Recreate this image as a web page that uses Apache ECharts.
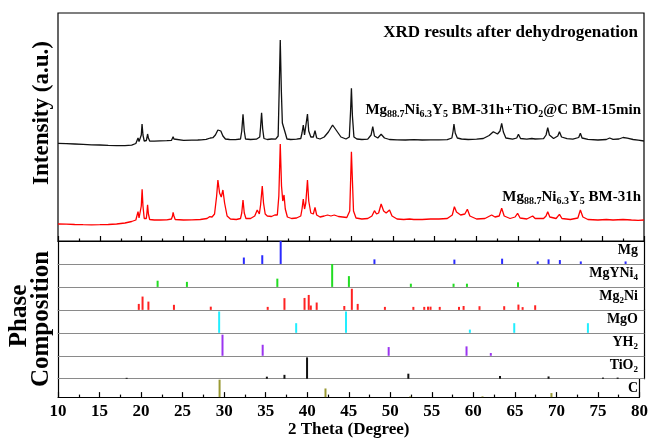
<!DOCTYPE html>
<html><head><meta charset="utf-8">
<script src="https://cdn.jsdelivr.net/npm/echarts@6/dist/echarts.min.js"></script>
<style>html,body{margin:0;padding:0;background:#fff}#c{width:651px;height:439px}</style>
</head><body><div id="c"></div>
<script>
// ---- data ----
const xMin = 10, xMax = 80, xStep = 5;

// XRD pattern: sample with TiO2@C (black), [2theta, intensity a.u.]
const patternTiO2C = [
[10,97.7],[11,97.4],[12,97],[13,96.6],[14,96.2],[15,96],[16,95.6],[17,95.4],[18,95.4],[18.8,95.8],[19.3,97.5],
[19.45,99],[19.56,103],[19.68,99.5],[19.85,100],[19.95,106],[20.04,117],[20.15,106],[20.3,100],[20.55,100.5],[20.62,103],[20.7,107],[20.8,103],[20.95,100],
[21.5,99.8],[22.2,100.2],[23,100.3],[23.55,100.6],[23.68,102.5],[23.75,104.3],[23.85,102],[24.0,100.5],
[25,100.6],[26,100.9],[26.7,101],[26.9,102.3],[27.1,101.2],[27.7,101.6],[28.2,103],[28.5,103.3],[28.8,106],[29.1,111],[29.25,112.7],[29.45,110],[29.7,105],[30,102],[30.5,101.5],
[31.2,101.4],[31.8,102],[31.95,110],[32.1,126.7],[32.25,110],[32.4,102],
[33,101.5],[33.7,101.8],[34.1,104],[34.2,114],[34.32,128.3],[34.45,112],[34.6,102.5],[35,101.5],[35.5,102],[36,101.8],[36.3,105],[36.42,150],[36.55,201],[36.68,150],[36.8,118],[37.0,119.3],[37.15,108],[37.35,102],
[37.8,101.5],[38.5,101.8],[39.0,102.5],[39.15,108],[39.3,116],[39.45,106],[39.6,108],[39.8,127],[39.95,110],[40.2,104],[40.5,104],[40.7,110.3],[40.9,103],[41.3,102],[41.8,104],[42.3,109],[42.8,116],[43.3,110],[43.8,104],[44.4,102],[44.8,104],[44.95,130],[45.05,152.7],[45.17,125],[45.35,104],[45.7,102],[46.3,101.5],[47.0,101.8],[47.4,106],[47.6,114.3],[47.8,105],[48.2,103],[48.6,106.7],[49.0,103],[49.6,101.5],
[50.5,101.2],[51.5,101],[52.5,101.3],[53.5,101],[54.5,101.2],[55.5,101.2],[56.5,101.3],[57.05,103],[57.2,110],[57.3,117],[57.45,108],[57.7,103],[58.2,102],[59,101.5],[60,101.8],[60.8,102.5],[61.5,105.5],[62.0,109.3],[62.5,107],[62.8,110],[63.0,117.7],[63.2,109],[63.5,103],[64.3,101.8],[64.8,103],[65.0,106.7],[65.25,102.5],[66,101.8],[66.6,102.5],[66.8,104.3],[67.0,102],[68.0,102.3],[68.3,106],[68.5,113.3],[68.7,106],[69.2,102.5],[69.7,105],[69.9,109.3],[70.15,104],[70.8,102.3],[71.5,101.8],[72.2,103.5],[72.4,107.7],[72.6,103],[73.3,101.6],[74.5,101],[75.5,101.5],[75.9,103],[76.3,101.6],[77,102],[77.5,103.5],[78,102.8],[78.7,101.5],[79.3,100.8],[80,100]
];

// XRD pattern: BM-31h sample (red)
const patternBM31h = [
[10,17],[11,16.8],[12,16.5],[13,16.3],[14,16.2],[15,16.3],[16,16.5],[17,17],[18,18],[18.8,19.5],[19.3,21],
[19.45,23],[19.56,29.3],[19.68,23],[19.85,22.5],[19.95,35],[20.05,51.7],[20.15,35],[20.3,22.5],[20.55,22.5],[20.62,28],[20.7,36.3],[20.8,27],[20.95,21.5],
[21.5,21],[22.2,21],[23,21.2],[23.55,22],[23.68,25],[23.75,28.7],[23.85,25],[24,21.5],[25,21],[26,21.2],[27,21.5],[27.8,22.5],[28.1,24.3],[28.4,24],[28.7,27],[28.95,45],[29.1,61],[29.3,48],[29.5,44],[29.7,51],[29.9,38],[30.2,25],[30.6,22],
[31.3,21.5],[31.8,22.5],[31.95,28],[32.1,41],[32.25,28],[32.45,22.5],[33.0,22.5],[33.5,25],[33.8,31],[34.05,27],[34.2,36],[34.4,55],[34.55,38],[34.75,27],[35.0,25],[35.5,24.5],[35.9,26],[36.2,26],[36.38,45],[36.55,97],[36.7,55],[36.85,40],[37.0,46],[37.15,32],[37.4,24],[37.9,22.5],[38.5,23],[39.0,25],[39.15,32],[39.3,42],[39.45,32],[39.6,38],[39.8,61],[39.95,40],[40.2,28],[40.5,27],[40.7,33.7],[40.9,26],[41.3,24],[41.8,25],[42.2,26],[42.6,25],[43.0,26],[43.5,24.5],[44,24],[44.5,23.5],[44.85,30],[44.97,65],[45.05,89.3],[45.15,65],[45.3,30],[45.6,23],[46.3,22],[47.0,22.5],[47.5,25],[47.8,30.3],[48.05,27],[48.3,28],[48.6,37],[48.9,30],[49.2,28],[49.6,31],[49.9,25],[50.5,22],[51.3,21.5],[52.0,22],[52.2,23],[52.5,21.5],[53.5,21.5],[54.5,22],[55.5,22],[56.5,22.5],[57.1,26],[57.35,34.3],[57.6,29],[57.8,30],[58.1,26],[58.6,27],[58.9,31.7],[59.2,25],[60,22],[61,22.5],[61.8,26],[62.2,24],[62.7,25],[63.0,32.7],[63.3,25],[64.0,22.5],[64.6,24],[64.9,27.7],[65.2,23],[66.0,22],[66.7,25],[67.0,22.5],[68.0,22.5],[68.3,25],[68.5,29.3],[68.75,24],[69.5,22.5],[69.9,26.7],[70.2,22.5],[71.2,21.5],[72.1,23],[72.4,31],[72.7,24],[73.3,21.5],[74.5,21],[75.5,21.5],[76.3,21],[77.5,21.5],[78.5,21],[79.3,20.7],[80,21]
];

// Reference phase sticks [2theta, relative intensity %]
const phaseNames = ['Mg', 'MgYNi4', 'Mg2Ni', 'MgO', 'YH2', 'TiO2', 'C'];
const sticksMg = [[32.2,28],[34.4,38],[36.6,100],[47.8,20],[57.35,19],[63.05,23],[67.3,11],[68.6,20],[69.95,17],[72.45,11],[77.8,11]];
const sticksMgYNi4 = [[21.9,27],[25.4,22],[36.2,36],[42.75,100],[44.75,47],[52.15,14],[57.25,14],[58.85,14],[64.95,20]];
const sticksMg2Ni = [[19.65,26],[20.1,58],[20.8,36],[23.85,22],[28.25,14],[35.05,13],[37.05,51],[39.45,52],[39.95,65],[40.2,19],[40.9,32],[44.2,17],[45.1,92],[45.8,26],[49.05,13],[52.45,13],[53.75,13],[54.2,14],[54.5,14],[55.6,13],[57.9,13],[58.45,17],[60.35,16],[63.3,16],[65.0,23],[65.5,12],[67.0,20]];
const sticksMgO = [[29.25,93],[38.45,42],[44.4,93],[59.2,14],[64.5,42],[73.3,42]];
const sticksYH2 = [[29.65,92],[34.45,48],[49.5,38],[58.8,41],[61.7,12]];
const sticksTiO2 = [[18.2,4],[34.95,9],[37.05,17],[39.75,93],[51.85,22],[62.8,12],[68.6,10],[75.1,5],[76.85,5]];
const sticksC = [[29.45,95],[42.2,47],[52.4,4],[61.1,4],[69.4,22]];

// ---- layout / style ----
const FONT = '"Liberation Serif","Times New Roman",serif';
const phaseSticks = [sticksMg, sticksMgYNi4, sticksMg2Ni, sticksMgO, sticksYH2, sticksTiO2, sticksC];
const phaseColors = ['#2a2aff', '#22dd22', '#ff2222', '#22eeff', '#9b35f0', '#111111', '#999933'];
const phaseRich = [
  '{n|Mg}',
  '{n|MgYNi}{s|4}',
  '{n|Mg}{s|2}{n|Ni}',
  '{n|MgO}',
  '{n|YH}{s|2}',
  '{n|TiO}{s|2}',
  '{n|C}'
];
const L = 58, R = 7, TOP = 13, MID = 241, BOT = 401.7;
const rowH = (BOT - MID) / 7;

const grids = [{left: L, right: R, top: TOP, height: MID - TOP, show: true, borderColor: '#000', borderWidth: 1.2}];
const xAxes = [{
  gridIndex: 0, type: 'value', min: xMin, max: xMax, interval: xStep,
  axisLine: {show: true, lineStyle: {color: '#000', width: 1.2}},
  axisTick: {show: true, inside: true, length: 5, lineStyle: {color: '#000', width: 1.2}},
  minorTick: {show: true, splitNumber: 2, length: 2.5, lineStyle: {color: '#000', width: 1.2}},
  axisLabel: {show: false}, splitLine: {show: false}
}];
const yAxes = [{gridIndex: 0, type: 'value', min: 0, max: 228, show: false}];
const series = [
  {type: 'line', xAxisIndex: 0, yAxisIndex: 0, data: patternTiO2C, showSymbol: false, lineStyle: {color: '#111', width: 1.3}, z: 3},
  {type: 'line', xAxisIndex: 0, yAxisIndex: 0, data: patternBM31h, showSymbol: false, lineStyle: {color: '#ff0000', width: 1.3}, z: 3}
];
const graphics = [];

for (let i = 0; i < 7; i++) {
  const top = MID + i * rowH;
  const gi = i + 1;
  const last = i === 6;
  grids.push({left: L, right: R, top: top, height: rowH, show: false});
  xAxes.push({
    gridIndex: gi, type: 'value', min: xMin, max: xMax, interval: xStep,
    axisLine: {show: true, onZero: false, lineStyle: {color: last ? '#000' : '#8a8a8a', width: 1.2}},
    axisTick: {show: last, inside: true, length: 5, lineStyle: {color: '#000', width: 1.2}},
    minorTick: {show: last, splitNumber: 2, length: 2.5, lineStyle: {color: '#000', width: 1.2}},
    axisLabel: {show: last, color: '#000', fontFamily: FONT, fontWeight: 'bold', fontSize: 17, margin: 6},
    splitLine: {show: false},
    name: last ? '2 Theta (Degree)' : '', nameLocation: 'middle', nameGap: 22,
    nameTextStyle: {color: '#000', fontFamily: FONT, fontWeight: 'bold', fontSize: 17}
  });
  const yl = yAxes.length;
  yAxes.push({gridIndex: gi, type: 'value', min: 0, max: 100, position: 'left',
    axisLine: {show: true, lineStyle: {color: '#000', width: 1.2}}, axisTick: {show: false}, axisLabel: {show: false}, splitLine: {show: false}});
  yAxes.push({gridIndex: gi, type: 'value', min: 0, max: 100, position: 'right',
    axisLine: {show: true, lineStyle: {color: '#000', width: 1.2}}, axisTick: {show: false}, axisLabel: {show: false}, splitLine: {show: false}});
  series.push({
    type: 'bar', name: phaseNames[i], xAxisIndex: gi, yAxisIndex: yl, data: phaseSticks[i],
    barWidth: 2, itemStyle: {color: phaseColors[i]}, z: 2
  });
  graphics.push({
    type: 'text', right: 13, top: top + rowH / 2 - 9,
    style: {
      text: phaseRich[i], align: 'right', fill: '#000',
      rich: {
        n: {fontFamily: FONT, fontWeight: 'bold', fontSize: 14, lineHeight: 17, verticalAlign: 'middle'},
        s: {fontFamily: FONT, fontWeight: 'bold', fontSize: 9, lineHeight: 7, verticalAlign: 'bottom'}
      }
    }
  });
}

const richLabel = {
  n: {fontFamily: FONT, fontWeight: 'bold', fontSize: 15, lineHeight: 18, verticalAlign: 'middle', fill: '#000'},
  s: {fontFamily: FONT, fontWeight: 'bold', fontSize: 10, lineHeight: 8, verticalAlign: 'bottom', fill: '#000'}
};
graphics.push(
  {type: 'text', right: 13, top: 24, style: {text: 'XRD results after dehydrogenation', fill: '#000', font: 'bold 17px ' + FONT}},
  {type: 'text', right: 10, top: 103, style: {text: '{n|Mg}{s|88.7}{n|Ni}{s|6.3}{n|Y}{s|5}{n| BM-31h+TiO}{s|2}{n|@C BM-15min}', rich: richLabel}},
  {type: 'text', right: 10, top: 190, style: {text: '{n|Mg}{s|88.7}{n|Ni}{s|6.3}{n|Y}{s|5}{n| BM-31h}', rich: richLabel}},
  {type: 'text', x: 42, y: 113, rotation: Math.PI / 2, style: {text: 'Intensity (a.u.)', fill: '#000', font: 'bold 23px ' + FONT, align: 'center', verticalAlign: 'middle'}},
  {type: 'text', x: 20, y: 316, rotation: Math.PI / 2, style: {text: 'Phase', fill: '#000', font: 'bold 25px ' + FONT, align: 'center', verticalAlign: 'middle'}},
  {type: 'text', x: 42, y: 319, rotation: Math.PI / 2, style: {text: 'Composition', fill: '#000', font: 'bold 25px ' + FONT, align: 'center', verticalAlign: 'middle'}}
);

const chart = echarts.init(document.getElementById('c'), null, {renderer: 'canvas'});
chart.setOption({
  animation: false,
  backgroundColor: '#fff',
  grid: grids, xAxis: xAxes, yAxis: yAxes, series: series, graphic: graphics
});
</script>
</body></html>
